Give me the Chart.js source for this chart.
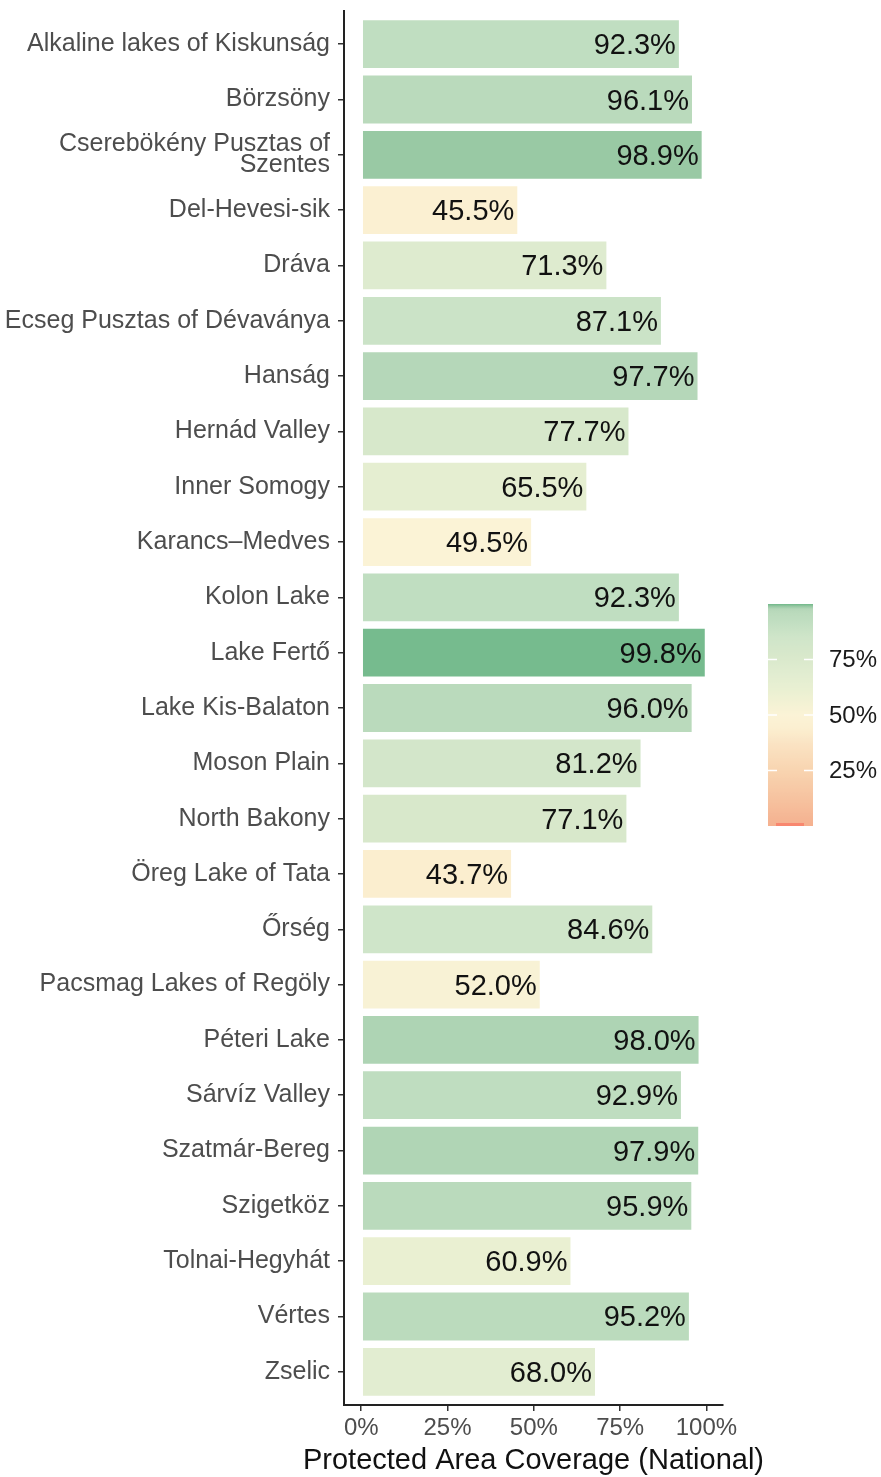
<!DOCTYPE html>
<html lang="en">
<head>
    <meta charset="UTF-8">
    <title>Protected Area Coverage</title>
    <script src="https://cdn.jsdelivr.net/npm/chart.js"></script>
    <style>
      body { margin: 0; background: #fff; }
      #wrap { width: 881px; height: 1477px; }
    </style>
</head>
<body>
    <div id="wrap"><canvas id="coverageChart"></canvas></div>

    <script>
      const categories = [
        'Alkaline lakes of Kiskunság', 'Börzsöny', ['Cserebökény Pusztas of', 'Szentes'],
        'Del-Hevesi-sik', 'Dráva', 'Ecseg Pusztas of Dévaványa', 'Hanság', 'Hernád Valley',
        'Inner Somogy', 'Karancs–Medves', 'Kolon Lake', 'Lake Fertő', 'Lake Kis-Balaton',
        'Moson Plain', 'North Bakony', 'Öreg Lake of Tata', 'Őrség', 'Pacsmag Lakes of Regöly',
        'Péteri Lake', 'Sárvíz Valley', 'Szatmár-Bereg', 'Szigetköz', 'Tolnai-Hegyhát',
        'Vértes', 'Zselic'
      ];
      const coverage = [92.3, 96.1, 98.9, 45.5, 71.3, 87.1, 97.7, 77.7, 65.5, 49.5, 92.3, 99.8, 96.0,
                        81.2, 77.1, 43.7, 84.6, 52.0, 98.0, 92.9, 97.9, 95.9, 60.9, 95.2, 68.0];
      const xTicks = [0, 25, 50, 75, 100];
      const legendTicks = [25, 50, 75];
      const xTitle = 'Protected Area Coverage (National)';

      const rampStops = [
        [0, '#f5b08f'], [12, '#f6c29f'], [25, '#f8d4b0'], [37, '#fae3c3'], [44, '#fbefd0'],
        [50, '#fbf3d6'], [61, '#eaf0d2'], [68, '#e2edd1'], [77, '#d8e8cb'], [85, '#cfe5c9'],
        [92, '#c1dec1'], [96, '#badabc'], [97.7, '#b5d7b9'], [98.9, '#99c9a4'], [99.8, '#76bb8e'],
        [100, '#70b88a']
      ];

      function hexToRgb(h) {
        return [parseInt(h.slice(1, 3), 16), parseInt(h.slice(3, 5), 16), parseInt(h.slice(5, 7), 16)];
      }

      function rampColor(v) {
        for (let i = 1; i < rampStops.length; i++) {
          const [v0, c0] = rampStops[i - 1];
          const [v1, c1] = rampStops[i];
          if (v <= v1) {
            const t = (v - v0) / (v1 - v0);
            const a = hexToRgb(c0), b = hexToRgb(c1);
            const rgb = a.map((x, k) => Math.round(x + (b[k] - x) * t));
            return `rgb(${rgb[0]},${rgb[1]},${rgb[2]})`;
          }
        }
        return rampStops[rampStops.length - 1][1];
      }

      const FONT = "'Liberation Sans', Arial, sans-serif";

      const valueLabels = {
        id: 'valueLabels',
        afterDatasetsDraw(chart) {
          const ctx = chart.ctx;
          const meta = chart.getDatasetMeta(0);
          ctx.save();
          ctx.font = `29px ${FONT}`;
          ctx.fillStyle = '#111';
          ctx.textAlign = 'right';
          ctx.textBaseline = 'middle';
          meta.data.forEach((bar, i) => {
            ctx.fillText(coverage[i].toFixed(1) + '%', bar.x - 4, bar.y + 2);
          });
          ctx.restore();
        }
      };

      // continuous colour bar on the right + x title (chart.js squeezes long titles)
      const extras = {
        id: 'extras',
        afterDraw(chart) {
          const ctx = chart.ctx;
          const left = 768, right = 813, top = 604, bottom = 826;
          const pos = v => bottom - (v / 100) * (bottom - top);
          const grad = ctx.createLinearGradient(0, bottom, 0, top);
          for (let v = 0; v <= 100; v += 0.5) grad.addColorStop(v / 100, rampColor(v));
          ctx.save();
          ctx.fillStyle = grad;
          ctx.fillRect(left, top, right - left, bottom - top);
          ctx.fillStyle = '#f8876f';
          ctx.fillRect(776, bottom - 3, 28, 3);
          ctx.strokeStyle = '#fff';
          ctx.lineWidth = 1.5;
          ctx.font = `24px ${FONT}`;
          ctx.fillStyle = '#1a1a1a';
          ctx.textAlign = 'left';
          ctx.textBaseline = 'middle';
          legendTicks.forEach(v => {
            const y = pos(v);
            ctx.beginPath();
            ctx.moveTo(left, y); ctx.lineTo(left + 9, y);
            ctx.moveTo(right - 9, y); ctx.lineTo(right, y);
            ctx.stroke();
            ctx.fillText(v + '%', 829, y + 1);
          });

          const area = chart.chartArea;
          ctx.font = `29px ${FONT}`;
          ctx.fillStyle = '#111';
          ctx.textAlign = 'center';
          ctx.fillText(xTitle, (area.left + area.right) / 2, 1461);
          ctx.restore();
        }
      };

      new Chart(document.getElementById('coverageChart'), {
        type: 'bar',
        data: {
          labels: categories,
          datasets: [{
            data: coverage,
            backgroundColor: coverage.map(rampColor),
            borderColor: 'rgba(255,255,255,0.6)',
            borderWidth: 1,
            borderSkipped: false,
            categoryPercentage: 0.9,
            barPercentage: 1
          }]
        },
        options: {
          indexAxis: 'y',
          responsive: true,
          maintainAspectRatio: false,
          animation: false,
          layout: { padding: { left: 0, right: 158, top: 11, bottom: 0 } },
          plugins: { legend: { display: false }, tooltip: { enabled: false } },
          scales: {
            x: {
              type: 'linear',
              min: -4.99,
              max: 104.79,
              afterBuildTicks: s => { s.ticks = xTicks.map(v => ({ value: v })); },
              afterFit: s => { s.height = 72; },
              border: { display: true, color: '#222', width: 2 },
              grid: { drawOnChartArea: false, drawTicks: true, tickLength: 6, color: '#333', lineWidth: 1.5 },
              ticks: {
                padding: 3,
                color: '#4d4d4d',
                font: { family: FONT, size: 24 },
                callback: v => v + '%'
              }
            },
            y: {
              afterBuildTicks: s => { s._startValue = -0.6; s._valueRange = categories.length + 0.2; },
              afterFit: s => { s.width = 344; s.paddingTop = 0; s.paddingBottom = 0; },
              border: { display: true, color: '#222', width: 2 },
              grid: { offset: false, drawOnChartArea: false, drawTicks: true, tickLength: 6, color: '#333', lineWidth: 1.5 },
              ticks: {
                autoSkip: false,
                padding: 8,
                color: '#4d4d4d',
                font: { family: FONT, size: 25, lineHeight: 0.84 }
              }
            }
          }
        },
        plugins: [valueLabels, extras]
      });
    </script>
</body>
</html>
